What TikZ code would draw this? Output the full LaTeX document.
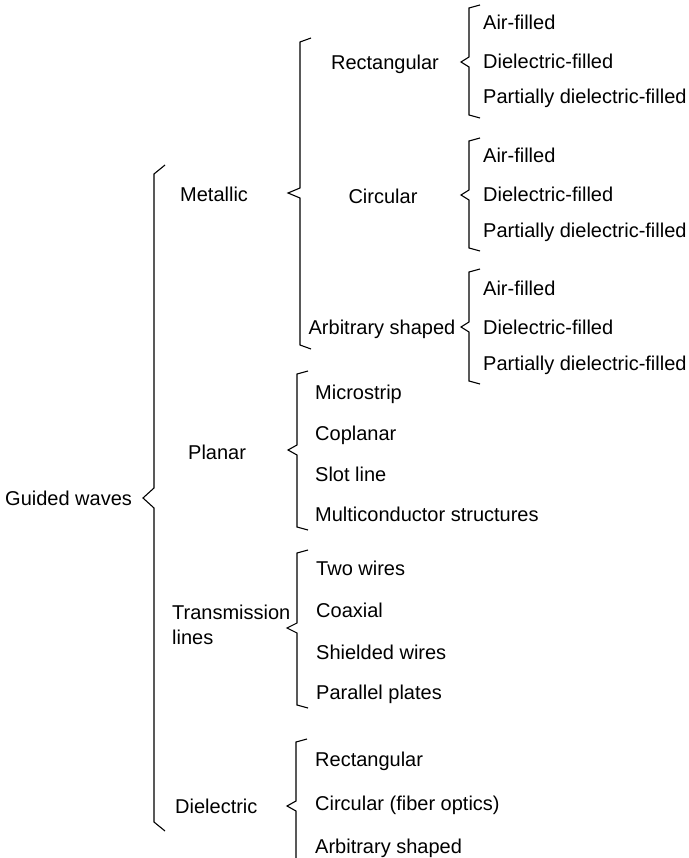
\documentclass[tikz,border=0pt]{standalone}
\usepackage{fontspec}
\setmainfont{Liberation Sans}
\usepackage{tikz}
\usetikzlibrary{positioning}
\tikzset{
    treeFont/.style={
        inner sep=0pt,
        font=\fontsize{20}{25}\selectfont
    },
    treeLabel/.style={
        treeFont,
        text height=14.3pt,
        text depth=0pt
    },
    leafLabel/.style={
        treeLabel,
        anchor=west
    },
    braceLine/.style={
        line width=1.1pt,
        line join=miter
    }
}

\begin{document}
\begin{tikzpicture}[x=1pt, y=-1pt]
        \useasboundingbox (0,0) rectangle (688,858);

        % Notch points of the brackets
        \coordinate (rootB) at (154, 498);   % Guided waves
        \coordinate (metB)  at (300, 193);   % Metallic
        \coordinate (recB)  at (469, 62);    % Rectangular
        \coordinate (cirB)  at (469, 195);   % Circular
        \coordinate (arbB)  at (469, 327);   % Arbitrary shaped
        \coordinate (plaB)  at (297, 450);   % Planar
        \coordinate (traB)  at (297, 628);   % Transmission lines
        \coordinate (dieB)  at (296, 806);   % Dielectric

        % Macro for a bracket: notch point, length above, length below, notch half, tick rise, notch depth
        \def\drawBracket#1#2#3#4#5#6{
            \draw[braceLine] (#1) ++(11,-#2-#5) -- ++(-11,#5) -- ++(0,#2-#4)
                -- ++(-#6,#4) -- ++(#6,#4) -- ++(0,#3-#4) -- ++(11,#5);
        }

        % Draw Brackets
        \drawBracket{rootB}{324}{324}{10}{9}{11}
        \drawBracket{metB}{151}{152}{5}{4}{12}
        \drawBracket{recB}{54}{53}{5}{3}{8}
        \drawBracket{cirB}{54}{53}{5}{3}{8}
        \drawBracket{arbB}{55}{54}{5}{3}{8}
        \drawBracket{plaB}{76}{77}{5}{3}{9}
        \drawBracket{traB}{75}{77}{5}{3}{10}
        \drawBracket{dieB}{64}{56}{5}{3}{9}

        % Root and first level
        \node[leafLabel] (guided) at (5, 498) {Guided waves};
        \node[leafLabel] (metallic) at (180, 194) {Metallic};
        \node[leafLabel] (planar) at (188, 452) {Planar};
        \node[treeFont, anchor=base west, align=left] (transLines) at (172, 644.2) {Transmission\\lines};
        \node[leafLabel] (dielectric) at (175, 806) {Dielectric};

        % Second level (metallic)
        \node[treeLabel] (rectangular) at (385, 62) {Rectangular};
        \node[treeLabel] (circular) at (383, 196) {Circular};
        \node[treeLabel] (arbitrary) at (382, 327) {Arbitrary shaped};

        % Leaves
        \foreach \y/\t [count=\i] in {22/Air-filled, 61/Dielectric-filled, 96/Partially dielectric-filled}
            \node[leafLabel] (recLeaf\i) at (483, \y) {\t};
        \foreach \y/\t [count=\i] in {155/Air-filled, 194/Dielectric-filled, 230/Partially dielectric-filled}
            \node[leafLabel] (cirLeaf\i) at (483, \y) {\t};
        \foreach \y/\t [count=\i] in {288/Air-filled, 327/Dielectric-filled, 363/Partially dielectric-filled}
            \node[leafLabel] (arbLeaf\i) at (483, \y) {\t};
        \foreach \y/\t [count=\i] in {392/Microstrip, 433/Coplanar, 474/Slot line, 514/Multiconductor structures}
            \node[leafLabel] (plaLeaf\i) at (315, \y) {\t};
        \foreach \y/\t [count=\i] in {568/Two wires, 610/Coaxial, 652/Shielded wires, 692/Parallel plates}
            \node[leafLabel] (traLeaf\i) at (316, \y) {\t};
        \foreach \y/\t [count=\i] in {759/Rectangular, 803/Circular (fiber optics), 846/Arbitrary shaped}
            \node[leafLabel] (dieLeaf\i) at (315, \y) {\t};

    \end{tikzpicture}
\end{document}
